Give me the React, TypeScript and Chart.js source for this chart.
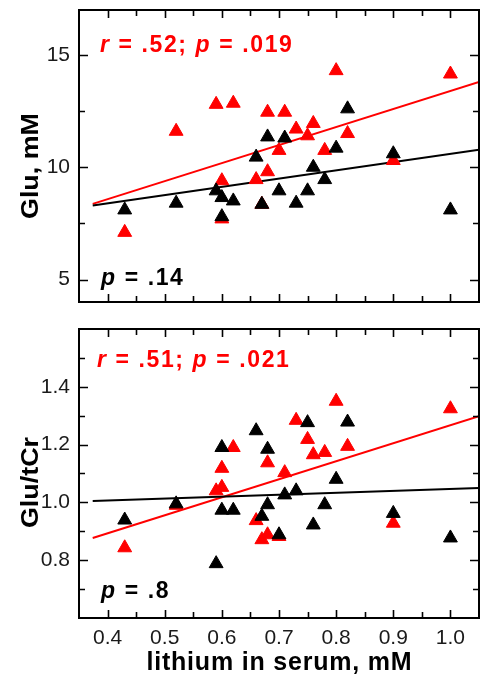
import React, { useEffect, useRef } from 'react';
import { Chart, registerables } from 'chart.js';

Chart.register(...registerables);

const FONT = '"Liberation Sans", Arial, sans-serif';
const RED = '#ff0000';
const BLACK = '#000000';

// ---- shared x axis (lithium in serum, mM) ----
const xMin = 0.35;
const xMax = 1.05;
const xTicks = [0.4, 0.5, 0.6, 0.7, 0.8, 0.9, 1.0];
const xTickLabels = ['0.4', '0.5', '0.6', '0.7', '0.8', '0.9', '1.0'];
const xMinorTicks = [0.45, 0.55, 0.65, 0.75, 0.85, 0.95];
const xTitle = 'lithium in serum, mM';

// ---- top panel: Glu, mM ----
const gluMin = 4;
const gluMax = 17;
const gluTicks = [5, 10, 15];
const gluTickLabels = ['5', '10', '15'];
const gluMinorTicks = [7.5, 12.5];
const gluTitle = 'Glu, mM';

const gluRedX = [0.43, 0.52, 0.59, 0.62, 0.60, 0.60, 0.66, 0.67, 0.68, 0.68, 0.70, 0.71, 0.73, 0.75, 0.76, 0.78, 0.80, 0.82, 0.90, 1.00];
const gluRedY = [7.1, 11.6, 12.8, 12.85, 9.4, 7.7, 9.45, 8.35, 9.8, 12.45, 10.75, 12.45, 11.7, 11.4, 11.95, 10.75, 14.3, 11.5, 10.3, 14.15];
const gluBlackX = [0.43, 0.52, 0.59, 0.60, 0.60, 0.62, 0.66, 0.67, 0.68, 0.70, 0.71, 0.73, 0.75, 0.76, 0.78, 0.80, 0.82, 0.90, 1.00];
const gluBlackY = [8.1, 8.4, 8.95, 8.65, 7.8, 8.5, 10.45, 8.35, 11.35, 8.95, 11.3, 8.4, 8.95, 10.0, 9.45, 10.85, 12.6, 10.6, 8.1];

const fitX = [0.374, 1.05];
const gluRedFit = [8.37, 13.8];
const gluBlackFit = [8.3, 10.78];

const gluRedStat = [
  { t: 'r', italic: true },
  { t: ' = .52; ' },
  { t: 'p', italic: true },
  { t: ' = .019' },
];
const gluBlackStat = [{ t: 'p', italic: true }, { t: ' = .14' }];

// ---- bottom panel: Glu/tCr ----
const ratioMin = 0.6;
const ratioMax = 1.6;
const ratioTicks = [0.8, 1.0, 1.2, 1.4];
const ratioTickLabels = ['0.8', '1.0', '1.2', '1.4'];
const ratioMinorTicks = [0.7, 0.9, 1.1, 1.3, 1.5];
const ratioTitle = 'Glu/tCr';

const ratioRedX = [0.43, 0.52, 0.59, 0.60, 0.60, 0.62, 0.66, 0.67, 0.68, 0.68, 0.70, 0.71, 0.73, 0.75, 0.76, 0.78, 0.80, 0.82, 0.90, 1.00];
const ratioRedY = [0.843, 0.99, 1.04, 1.052, 1.118, 1.19, 0.937, 0.871, 0.888, 1.137, 0.882, 1.103, 1.284, 1.218, 1.165, 1.173, 1.35, 1.194, 0.928, 1.324];
const ratioBlackX = [0.43, 0.52, 0.59, 0.60, 0.60, 0.62, 0.66, 0.67, 0.68, 0.68, 0.70, 0.71, 0.73, 0.75, 0.76, 0.78, 0.80, 0.82, 0.90, 1.00];
const ratioBlackY = [0.939, 0.995, 0.788, 1.19, 0.973, 0.973, 1.248, 0.952, 1.184, 0.992, 0.888, 1.026, 1.04, 1.276, 0.922, 0.992, 1.08, 1.278, 0.962, 0.877];

const ratioRedFit = [0.877, 1.298];
const ratioBlackFit = [1.005, 1.05];

const ratioRedStat = [
  { t: 'r', italic: true },
  { t: ' = .51; ' },
  { t: 'p', italic: true },
  { t: ' = .021' },
];
const ratioBlackStat = [{ t: 'p', italic: true }, { t: ' = .8' }];

type Seg = { t: string; italic?: boolean };

function drawSpaced(ctx: CanvasRenderingContext2D, segs: Seg[], x: number, y: number, size: number, color: string, spacing: number) {
  ctx.save();
  ctx.fillStyle = color;
  ctx.textAlign = 'left';
  ctx.textBaseline = 'alphabetic';
  let cx = x;
  for (const s of segs) {
    ctx.font = `${s.italic ? 'italic ' : ''}bold ${size}px ${FONT}`;
    for (const ch of s.t) {
      ctx.fillText(ch, cx, y);
      cx += ctx.measureText(ch).width + spacing;
    }
  }
  ctx.restore();
}

function spacedWidth(ctx: CanvasRenderingContext2D, text: string, font: string, spacing: number) {
  ctx.save();
  ctx.font = font;
  let w = 0;
  for (const ch of text) w += ctx.measureText(ch).width + spacing;
  ctx.restore();
  return w - spacing;
}

const framePlugin = {
  id: 'frame',
  afterDraw(chart: any, _args: any, opts: any) {
    const ctx: CanvasRenderingContext2D = chart.ctx;
    const { left, right, top, bottom } = chart.chartArea;
    const xs = chart.scales.x;
    const ys = chart.scales.y;
    ctx.save();
    ctx.strokeStyle = '#000';
    ctx.lineWidth = 1.6;
    const tickX = (vals: number[], len: number) => {
      for (const v of vals) {
        const p = Math.round(xs.getPixelForValue(v)) + 0.5;
        ctx.beginPath();
        ctx.moveTo(p, bottom);
        ctx.lineTo(p, bottom - len);
        ctx.moveTo(p, top);
        ctx.lineTo(p, top + len);
        ctx.stroke();
      }
    };
    const tickY = (vals: number[], len: number) => {
      for (const v of vals) {
        const p = Math.round(ys.getPixelForValue(v)) + 0.5;
        ctx.beginPath();
        ctx.moveTo(left, p);
        ctx.lineTo(left + len, p);
        ctx.moveTo(right, p);
        ctx.lineTo(right - len, p);
        ctx.stroke();
      }
    };
    tickX(opts.majorX, 8);
    tickX(opts.minorX, 6);
    tickY(opts.majorY, 9);
    tickY(opts.minorY, 6);
    ctx.lineWidth = 2;
    ctx.strokeRect(left, top, right - left, bottom - top);
    ctx.restore();

    // statistics annotations
    for (const a of opts.notes) {
      drawSpaced(ctx, a.segs, a.x, a.y, 23, a.color, 1.6);
    }

    // y title (rotated, slightly stretched)
    ctx.save();
    ctx.translate(opts.yTitleX, (top + bottom) / 2 + opts.yTitleShift);
    ctx.rotate(-Math.PI / 2);
    ctx.scale(1.12, 1);
    ctx.font = `bold 24px ${FONT}`;
    ctx.fillStyle = '#000';
    ctx.textAlign = 'center';
    ctx.textBaseline = 'middle';
    ctx.fillText(opts.yTitle, 0, 0);
    ctx.restore();

    // x title
    if (opts.xTitle) {
      const font = `bold 25px ${FONT}`;
      const w = spacedWidth(ctx, opts.xTitle, font, 0.8);
      drawSpaced(ctx, [{ t: opts.xTitle }], (left + right) / 2 - w / 2, opts.xTitleY, 25, '#000', 0.8);
    }
  },
};

function pts(xs: number[], ys: number[]) {
  return xs.map((x, i) => ({ x, y: ys[i] }));
}

type PanelProps = {
  height: number;
  top: number;
  padTop: number;
  xAxisHeight: number;
  showX: boolean;
  yMin: number;
  yMax: number;
  yTicks: number[];
  yTickLabels: string[];
  yMinor: number[];
  yTitle: string;
  yTitleShift: number;
  redX: number[];
  redY: number[];
  blackX: number[];
  blackY: number[];
  redFit: number[];
  blackFit: number[];
  notes: any[];
};

function Panel(p: PanelProps) {
  const ref = useRef<HTMLCanvasElement | null>(null);
  useEffect(() => {
    if (!ref.current) return;
    const tri = (color: string) => ({
      backgroundColor: color,
      borderColor: color,
      borderWidth: 1,
      pointStyle: 'triangle',
      pointRadius: 8,
      showLine: false,
    });
    const line = (color: string) => ({
      borderColor: color,
      backgroundColor: color,
      borderWidth: 2,
      pointRadius: 0,
      showLine: true,
      fill: false,
    });
    const chart = new Chart(ref.current, {
      type: 'scatter',
      data: {
        datasets: [
          { label: 'black', data: pts(p.blackX, p.blackY), ...tri(BLACK), order: 1 },
          { label: 'red', data: pts(p.redX, p.redY), ...tri(RED), order: 2 },
          { label: 'black fit', data: pts(fitX, p.blackFit), ...line(BLACK), order: 3 },
          { label: 'red fit', data: pts(fitX, p.redFit), ...line(RED), order: 4 },
        ] as any,
      },
      options: {
        animation: false,
        responsive: false,
        events: [],
        layout: { padding: { top: p.padTop, right: 7, left: 0, bottom: 0 } },
        plugins: {
          legend: { display: false },
          tooltip: { enabled: false },
          frame: {
            majorX: xTicks,
            minorX: xMinorTicks,
            majorY: p.yTicks,
            minorY: p.yMinor,
            yTitle: p.yTitle,
            yTitleX: 31,
            yTitleShift: p.yTitleShift,
            xTitle: p.showX ? xTitle : null,
            xTitleY: 350,
            notes: p.notes,
          },
        } as any,
        scales: {
          x: {
            type: 'linear',
            min: xMin,
            max: xMax,
            grid: { display: false, drawTicks: false },
            border: { display: false },
            afterBuildTicks: (s: any) => {
              s.ticks = xTicks.map((v) => ({ value: v }));
            },
            afterFit: (s: any) => {
              s.height = p.xAxisHeight;
              s.paddingLeft = 0;
              s.paddingRight = 0;
            },
            ticks: {
              display: p.showX,
              autoSkip: false,
              maxRotation: 0,
              padding: 8,
              color: '#1a1a1a',
              font: { family: FONT, size: 21 },
              callback: (_v: any, i: number) => xTickLabels[i],
            },
          },
          y: {
            type: 'linear',
            min: p.yMin,
            max: p.yMax,
            grid: { display: false, drawTicks: false },
            border: { display: false },
            afterBuildTicks: (s: any) => {
              s.ticks = p.yTicks.map((v) => ({ value: v }));
            },
            afterFit: (s: any) => {
              s.width = 79;
              s.paddingTop = 0;
              s.paddingBottom = 0;
            },
            ticks: {
              autoSkip: false,
              padding: 9,
              color: '#1a1a1a',
              font: { family: FONT, size: 21 },
              callback: (_v: any, i: number) => p.yTickLabels[i],
            },
          },
        },
      } as any,
      plugins: [framePlugin as any],
    });
    return () => chart.destroy();
  }, []);
  return (
    <canvas
      ref={ref}
      width={488}
      height={p.height}
      style={{ position: 'absolute', left: 0, top: p.top, width: 488, height: p.height }}
    />
  );
}

export default function App() {
  return (
    <div style={{ position: 'absolute', left: 0, top: 0, width: 488, height: 677, background: '#fff' }}>
      <Panel
        height={320}
        top={0}
        padTop={10}
        xAxisHeight={18}
        showX={false}
        yMin={gluMin}
        yMax={gluMax}
        yTicks={gluTicks}
        yTickLabels={gluTickLabels}
        yMinor={gluMinorTicks}
        yTitle={gluTitle}
        yTitleShift={10}
        redX={gluRedX}
        redY={gluRedY}
        blackX={gluBlackX}
        blackY={gluBlackY}
        redFit={gluRedFit}
        blackFit={gluBlackFit}
        notes={[
          { segs: gluRedStat, x: 100, y: 52, color: RED },
          { segs: gluBlackStat, x: 101, y: 285, color: BLACK },
        ]}
      />
      <Panel
        height={357}
        top={320}
        padTop={5}
        xAxisHeight={59}
        showX={true}
        yMin={ratioMin}
        yMax={ratioMax}
        yTicks={ratioTicks}
        yTickLabels={ratioTickLabels}
        yMinor={ratioMinorTicks}
        yTitle={ratioTitle}
        yTitleShift={9}
        redX={ratioRedX}
        redY={ratioRedY}
        blackX={ratioBlackX}
        blackY={ratioBlackY}
        redFit={ratioRedFit}
        blackFit={ratioBlackFit}
        notes={[
          { segs: ratioRedStat, x: 97, y: 47, color: RED },
          { segs: ratioBlackStat, x: 101, y: 278, color: BLACK },
        ]}
      />
    </div>
  );
}
